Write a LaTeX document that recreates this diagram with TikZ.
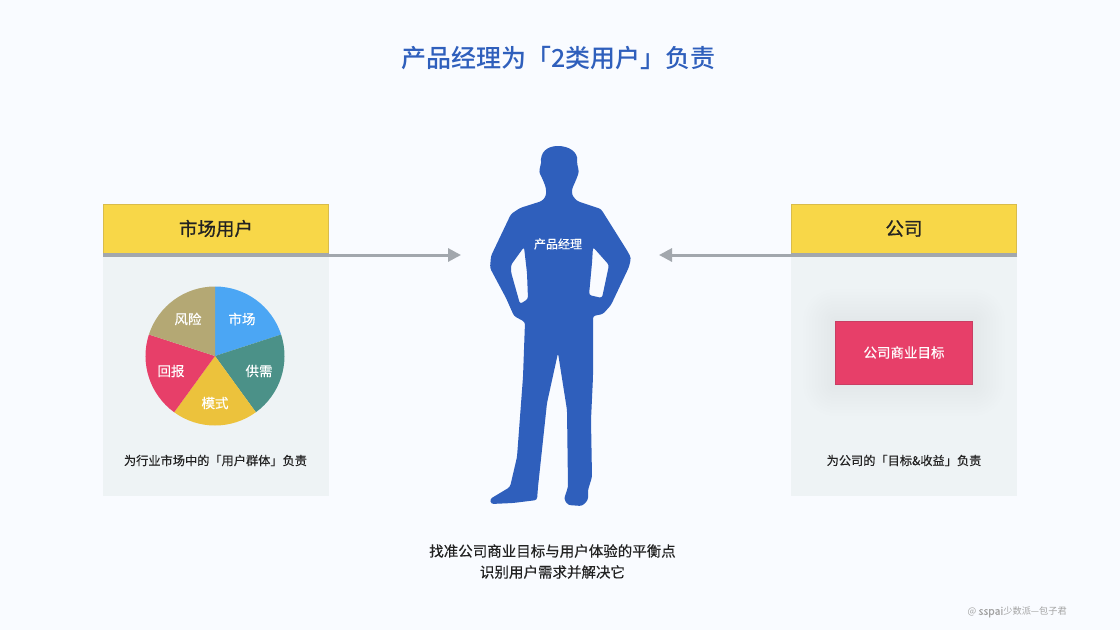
\documentclass[tikz,border=0pt]{standalone}
\usepackage{fontspec}
\setmainfont{Noto Sans CJK SC}
\newfontfamily\medfont{Noto Sans CJK SC}[FakeBold=0.35]
\newfontfamily\semifont{Noto Sans CJK SC}[FakeBold=0.7]
\newfontfamily\titlefont{Noto Sans CJK SC Medium}
\usetikzlibrary{arrows.meta}
\definecolor{bgc}{HTML}{F9FBFF}
\definecolor{panelc}{HTML}{EEF3F5}
\definecolor{yellowc}{HTML}{F8D748}
\definecolor{yellowe}{HTML}{D9BC4B}
\definecolor{redc}{HTML}{E73F69}
\definecolor{rede}{HTML}{C93E63}
\definecolor{bluec}{HTML}{2F5FBC}
\definecolor{grayc}{HTML}{A2A7AD}
\definecolor{inkc}{HTML}{222222}
\tikzset{
  panelbox/.style={fill=panelc,draw=none,minimum width=226pt,minimum height=242pt,inner sep=0pt},
  headbox/.style={fill=yellowc,draw=yellowe,line width=0.8pt,minimum width=225.4pt,minimum height=49pt,inner sep=0pt,font=\semifont\fontsize{18.5}{19}\selectfont,text=inkc},
  goalbox/.style={fill=redc,draw=rede,line width=0.8pt,minimum width=137.4pt,minimum height=63pt,inner sep=0pt,font=\medfont\fontsize{13.5}{14}\selectfont,text=white},
  pielabel/.style={font=\medfont\fontsize{13.5}{14}\selectfont,text=white,inner sep=0pt},
  caption/.style={font=\medfont\fontsize{12.2}{14}\selectfont,text=inkc,inner sep=0pt},
  flow/.style={draw=grayc,line width=3pt,-{Triangle[length=13pt,width=13pt]}},
  rule/.style={draw=grayc,line width=4pt}
}
\begin{document}
\begin{tikzpicture}[x=1pt,y=-1pt]
\useasboundingbox (0,0) rectangle (1120,630);
\fill[bgc] (0,0) rectangle (1120,630);
\node[font=\titlefont\fontsize{25}{28}\selectfont,text=bluec,inner sep=0pt] (title) at (558.5,58) {产品经理为「2类用户」负责};
% panels
\node[panelbox] (leftpanel) at (216,375) {};
\node[panelbox] (rightpanel) at (904,375) {};
% soft shadow of the goal box
\foreach \s in {32,29,...,2}{
  \fill[black,opacity=0.003,rounded corners=\s pt] (835-\s,321-\s) rectangle (973+\s,384+\s);
}
% arrows
\coordinate (lefttip) at (461,255);
\coordinate (righttip) at (659,255);
\coordinate (leftstart) at (103,255);
\coordinate (rightstart) at (1017,255);
\draw[flow] (leftstart) -- (lefttip);
\draw[flow] (rightstart) -- (righttip);
% headers
\node[headbox] (lefthead) at (216,228.5) {市场用户};
\node[headbox] (righthead) at (904,228.5) {公司};
\draw[rule] (leftstart) -- (329,255);
\draw[rule] (rightstart) -- (791,255);
% pie
\def\pr{69.5}
\begin{scope}[y=1pt]
\path (215,-356) coordinate (pcu);
\fill[fill={rgb,255:red,75;green,166;blue,244}] (pcu) -- ++(90:\pr) arc (90:18:\pr) -- cycle;
\fill[fill={rgb,255:red,75;green,145;blue,136}] (pcu) -- ++(18:\pr) arc (18:-54:\pr) -- cycle;
\fill[fill={rgb,255:red,236;green,194;blue,60}] (pcu) -- ++(-54:\pr) arc (-54:-126:\pr) -- cycle;
\fill[fill=redc] (pcu) -- ++(-126:\pr) arc (-126:-198:\pr) -- cycle;
\fill[fill={rgb,255:red,180;green,168;blue,116}] (pcu) -- ++(-198:\pr) arc (-198:-270:\pr) -- cycle;
\end{scope}
\node[pielabel] (pa) at (242,319) {市场};
\node[pielabel] (pb) at (259,371) {供需};
\node[pielabel] (pc2) at (215,403) {模式};
\node[pielabel] (pd) at (171,371) {回报};
\node[pielabel] (pe) at (188,319) {风险};
\node[caption] (leftcap) at (215.5,460.5) {为行业市场中的「用户群体」负责};
\node[goalbox] (goal) at (904,352.5) {公司商业目标};
\node[caption] (rightcap) at (904,460.5) {为公司的「目标\&收益」负责};
% silhouette
\fill[bluec,even odd rule,rounded corners=2.5pt]
 (546,196) -- (542,201)
 -- (520,208) -- (511,214) -- (491,256) -- (490,268) -- (506,298) -- (514,316) -- (525,322)
 -- (523,377) -- (517,457) -- (510,487) -- (490,499) -- (491,504) -- (513,503) -- (537,500) -- (538,487)
 -- (547,403) -- (558,353) -- (567,410) -- (568,487) -- (564,499) -- (568,505) -- (582,506) -- (588,500) -- (588,490)
 -- (592,477) -- (591,420) -- (593,377) -- (593,327) -- (593,316) -- (603,314) -- (611,305) -- (629,267) -- (631,258) -- (628,252)
 -- (601,209) -- (577,201) -- (572,195) -- (572,189) -- (576,180) -- (579,172)
 -- (577,163) [sharp corners] .. controls (578,152) and (569,146) .. (558,146)
 .. controls (547,146) and (540,152) .. (541,163) [rounded corners=2.5pt]
 -- (539,172) -- (543,180) -- (546,188) -- cycle
 (524,247) -- (511,265) -- (511,272) -- (520,304) -- (528,299) -- (527,273) -- cycle
 (593,247) -- (609,265) -- (602,298) -- (589,295) -- (592,263) -- cycle;
\node[font=\medfont\fontsize{12}{14}\selectfont,text=white,inner sep=0pt] (pm) at (558,244) {产品经理};
\node[font=\medfont\fontsize{14.5}{21}\selectfont,text=inkc,align=center,inner sep=0pt] (summary) at (552.5,561.5) {找准公司商业目标与用户体验的平衡点\\识别用户需求并解决它};
\node[font=\fontsize{9.2}{12}\selectfont,text=black!36,anchor=east,inner sep=0pt] (mark) at (1067,612) {@ {\medfont\fontsize{10.5}{12}\selectfont sspai}少数派—包子君};
\end{tikzpicture}
\end{document}
